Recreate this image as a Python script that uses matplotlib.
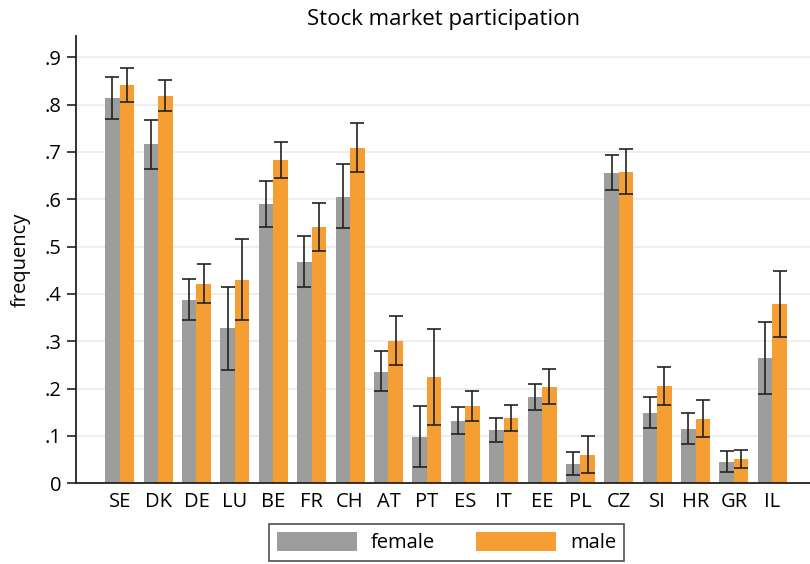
import matplotlib.pyplot as plt
import numpy as np

countries = ["SE", "DK", "DE", "LU", "BE", "FR", "CH", "AT", "PT",
             "ES", "IT", "EE", "PL", "CZ", "SI", "HR", "GR", "IL"]

female = [0.814, 0.717, 0.387, 0.328, 0.590, 0.468, 0.605, 0.235, 0.098,
          0.132, 0.113, 0.182, 0.041, 0.656, 0.148, 0.115, 0.045, 0.265]
female_hi = [0.859, 0.768, 0.432, 0.415, 0.639, 0.522, 0.674, 0.280, 0.164,
             0.162, 0.137, 0.210, 0.066, 0.694, 0.183, 0.149, 0.068, 0.341]
female_lo = [0.770, 0.665, 0.345, 0.239, 0.542, 0.415, 0.539, 0.194, 0.034,
             0.104, 0.088, 0.154, 0.018, 0.620, 0.117, 0.082, 0.023, 0.189]

male = [0.841, 0.818, 0.421, 0.430, 0.683, 0.541, 0.708, 0.301, 0.225,
        0.163, 0.138, 0.203, 0.060, 0.658, 0.205, 0.136, 0.051, 0.379]
male_hi = [0.878, 0.853, 0.463, 0.516, 0.721, 0.592, 0.761, 0.353, 0.325,
           0.195, 0.165, 0.242, 0.100, 0.706, 0.246, 0.175, 0.070, 0.449]
male_lo = [0.805, 0.786, 0.381, 0.344, 0.646, 0.490, 0.658, 0.250, 0.123,
           0.132, 0.110, 0.167, 0.022, 0.611, 0.166, 0.098, 0.032, 0.309]

yticks = [0, 0.1, 0.2, 0.3, 0.4, 0.5, 0.6, 0.7, 0.8, 0.9]
ytick_labels = ["0", ".1", ".2", ".3", ".4", ".5", ".6", ".7", ".8", ".9"]

plt.rcParams['font.family'] = ['Open Sans', 'DejaVu Sans']

fig = plt.figure(figsize=(8.1, 5.64), dpi=100)
ax = fig.add_axes([76.3 / 810, (564 - 483.3) / 564, (810 - 76.3) / 810, (483.3 - 36) / 564])

x = np.arange(len(countries))
w = 0.378
gray = "#9d9d9b"
orange = "#f49e34"

f = np.array(female)
m = np.array(male)
ferr = [f - np.array(female_lo), np.array(female_hi) - f]
merr = [m - np.array(male_lo), np.array(male_hi) - m]

ax.bar(x - w / 2, f, w, color=gray, label="female", zorder=2)
ax.bar(x + w / 2, m, w, color=orange, label="male", zorder=2)
ax.errorbar(x - w / 2, f, yerr=ferr, fmt="none", ecolor="#222222", elinewidth=1.2,
            capsize=4.7, capthick=1.2, zorder=3)
ax.errorbar(x + w / 2, m, yerr=merr, fmt="none", ecolor="#222222", elinewidth=1.2,
            capsize=4.7, capthick=1.2, zorder=3)

ax.set_xlim(-1.13, 17.98)
ax.set_ylim(0, 0.945)
ax.set_yticks(yticks)
ax.set_yticklabels(ytick_labels, fontsize=14.5)
ax.set_xticks(x)
ax.set_xticklabels(countries, fontsize=14.5)
ax.tick_params(axis="x", length=0, pad=6)
ax.tick_params(axis="y", length=6.5, width=1.2, color="#222222", pad=4)
ax.yaxis.grid(True, color="#ebebeb", linewidth=1.2, zorder=0)
ax.set_axisbelow(True)

for s in ["top", "right"]:
    ax.spines[s].set_visible(False)
for s in ["left", "bottom"]:
    ax.spines[s].set_linewidth(1.3)
    ax.spines[s].set_color("#222222")

ax.set_ylabel("frequency", fontsize=14.5, labelpad=10)
ax.set_title("Stock market participation", fontsize=16, pad=8)

leg = fig.legend(loc="center", bbox_to_anchor=(446.5 / 810, (564 - 542.5) / 564),
                 ncol=2, fontsize=14.5, frameon=True, fancybox=False,
                 handlelength=4.0, handleheight=1.05, columnspacing=2.0, handletextpad=0.7,
                 borderpad=0.38)
leg.get_frame().set_edgecolor("#222222")
leg.get_frame().set_linewidth(1.2)

fig.savefig("out.png", dpi=100)
